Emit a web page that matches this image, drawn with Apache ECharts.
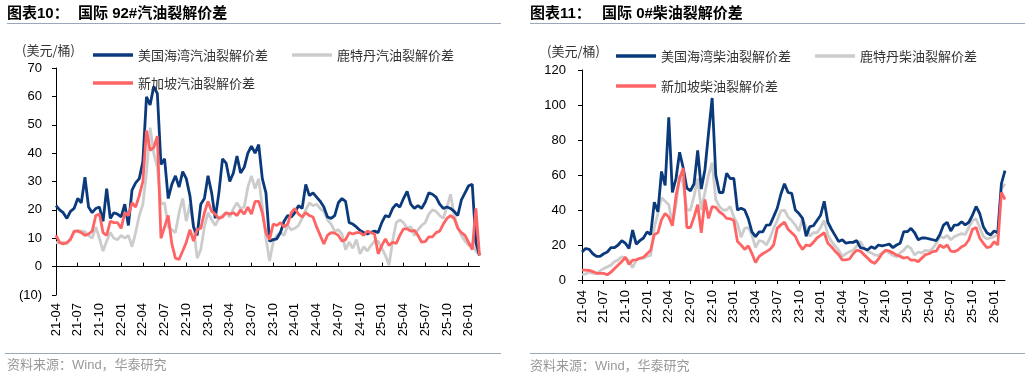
<!DOCTYPE html>
<html><head><meta charset="utf-8">
<script src="https://cdn.jsdelivr.net/npm/echarts@6/dist/echarts.min.js"></script>
<style>html,body{margin:0;padding:0;background:#fff}#c{width:1030px;height:377px}</style>
</head><body><div id="c"></div>
<script>
// x = months since 2021-04, one point every half month
const STEP = 0.5;
const X_TICKS = [0,3,6,9,12,15,18,21,24,27,30,33,36,39,42,45,48,51,54,57];
const X_LABELS = ['21-04','21-07','21-10','22-01','22-04','22-07','22-10','23-01','23-04','23-07',
                  '23-10','24-01','24-04','24-07','24-10','25-01','25-04','25-07','25-10','26-01'];

// 国际92#汽油裂解价差 (美元/桶)
const gasUS = [
21.5,20,19,17,19.5,20.5,24,22.5,31.5,21,19,20.5,
21,16,27.5,17,19,18.5,17.5,22,14.5,27,29.5,31,
37,59.8,57,63.5,61,36,38,24,29,32,28,33.5,
31,25,14,11,22,24,32,26,17,26,38,36.5,
30,33,39,33,35,40,42.5,40,43,31,26,9,
9.5,9.8,12,16,18,17.5,19,21.5,20.5,29,25,26,
24.5,23,21,17.5,17,18,22.5,24,23,15.5,15,14,
12.7,12,11.5,12.1,12.5,12,15.5,18,17.5,20.5,22,21,
24,26.5,22,20.5,21.5,20.5,22.7,26,25.5,24.5,22,20.5,
21,20.5,19.5,18,23.5,26,28.5,29,8.5,4];
const gasRT = [
8.5,8.3,8.5,8,10,12,12.7,12.5,12.3,11,10,14,
10,5.5,9,12,10,9.5,11,10,11,7,12,18,
22,33,49,40,35,22,22.5,14,13,12,19,24,
16,22,14,3,6,14,19,16.5,14.5,17,18,19,
17.5,20.4,22.5,20.5,21,28,32,27.5,31,21,10,2,
8.6,11,12,11,14.5,13,13.5,14.5,17,20,22.5,21.5,
22,20.4,19.5,16.5,15,12.5,13,11.5,6,8.6,6.5,9.5,
4.5,7,5.5,7.4,9,9,6.5,4,0.5,9,15.5,16.5,
15.5,13.5,14,11,13,14.5,15.5,18.5,20,19.5,18,17,
21,25.5,18,14,11,9,7.5,8,5.5,4];
const gasSG = [
11,8.5,8,8.5,9.5,12.5,12.5,12,11,11.5,12.5,18,
18.5,12,11,16,15.5,15.5,13.5,19,18,22.5,21,25,
30,48,41,42,46,10,14,18,8,3,2.5,5.5,
8.6,13,9,13,13.5,19,23,19.5,18.5,17,17.5,19,
18.5,19,18,20,18.5,21,18.5,23,23,19,12,9.5,
15,14.5,15.5,14,15,19,20.5,18.5,17.5,19,18,17.5,
14,11,8,11,12,11.8,11,9,9.5,12,11.5,12,
12,11,12.5,12,11.5,4.5,7.4,9.8,7.5,8.6,8.2,11,
13.3,13.3,12.5,12.8,11,8.6,8.8,10.5,10.5,12,12.5,15,
17,18,17,13.5,12,11,8.5,6,20.5,4];

// 国际0#柴油裂解价差 (美元/桶)
const dslUS = [
16,18,17.5,15,13.5,13.5,15,16,18.5,18.5,20,22.5,
21,18,28.5,20.5,22.5,24,27.5,26,44.5,39,62,54,
93,50,58,73,64,52.5,51,55,74,52,63,84,
104,60,50,50,61,58,58,40,41,40,35,27.5,
24.8,27.5,27.5,31.4,31.5,36.2,41,49,55,50,49.5,40,
38,35.2,25,30.5,31,34,37,45,33,29,25.5,22,
23,21,21.5,21.5,22.5,18.5,18,17.1,19,18,20,19.5,
20,20.5,18.5,20,21,27.6,27.6,29.5,27,23,24,24,
23.5,23,22.5,26,31.4,33,28,31.4,31.5,33.3,31.5,33,
37,42,38,30.5,27,25.7,28,27,55,62.5];
const dslRT = [
3,3.5,4.5,3.8,3.8,5.2,6.5,7.5,8.5,10.5,11.4,13.3,
12.5,11,7,11.5,12.4,12.4,13.5,14,30,38,47,45,
43,32,43,60,55,40,40,48,58,40,50,60,
67,46,42,40,40,42,36,32,24.5,29.5,30,25.7,
18.5,22.5,22,20,24,29.5,34,39.5,40,36,34,31.4,
28,35,30,25,27,27,30,34,25.7,22,19.5,17,
13.5,15,16.2,17,19.5,22,18.5,16.2,15.5,14.3,14,15.5,
17,15.5,14,13.3,15.5,17,19.5,18,14.3,16,15.5,17,
16.5,18,21,25,24,25.5,23,24.8,25.7,26.5,26,30,
34,35,30,25,23.5,24,24.8,26,52,55];
const dslSG = [
5.7,5.7,5.5,4.8,3.8,3.8,3.8,3,4.5,6.5,8.6,10.5,
13,9,11.4,11.5,12.4,13,15,17,26,27,34.5,38,
36,31,48,58,64,30,30,36,43,27,46,35.2,
42,41.5,39,37.5,35.2,35,34,22,20,17.5,19.5,15.2,
10,13.5,15,16.2,17.5,20,29.5,31.5,33,29,27,25,
20.5,17.5,20,19.5,21.5,24,25.5,27,21,19,16.5,14.5,
11.5,11.5,12,15,17,16.5,14.5,12.5,10.5,9.5,12,15,
17,16.5,15.5,14.3,13.5,12.5,13,11.4,11.4,10.5,12.5,14.5,
15,16.2,16.5,20,18.5,20,16.5,16.2,17.1,19,20,23,
29,30,24,21,18.5,19,21.9,20,50,46];

const BLUE = '#0b3a7c', GRAY = '#cccccc', RED = '#ff6464';
const NUM = 'Liberation Sans, Arial, sans-serif';
const CJK = '"Noto Sans CJK SC", sans-serif';
const TITLE = '"Liberation Sans", "Noto Sans CJK SC", sans-serif';

const chart = echarts.init(document.getElementById('c'), null, {renderer: 'canvas'});

function xlab(v) { const i = X_TICKS.indexOf(v); return i >= 0 ? X_LABELS[i] : ''; }
function ser(name, vals, color, xi, yi, z) {
  return { name, type: 'line', xAxisIndex: xi, yAxisIndex: yi, z,
    data: vals.map((v, i) => [i * STEP, v]),
    symbol: 'none', showSymbol: false, smooth: false,
    lineStyle: { width: 2.8, color }, itemStyle: { color }, emphasis: { disabled: true } };
}
const xMax = (gasUS.length - 1) * STEP;
const xBase = {
  type: 'value', min: 0, max: xMax,
  splitLine: { show: false },
  axisTick: { show: true, length: 4, lineStyle: { color: '#000' }, customValues: X_TICKS },
  axisLine: { show: true, onZero: false, lineStyle: { color: '#000', width: 1 } },
  axisLabel: { show: true, rotate: 90, fontSize: 13, color: '#000', fontFamily: NUM,
    customValues: X_TICKS, formatter: xlab }
};
function merge(a, b) { return echarts.util.merge(echarts.util.clone(a), b, true); }

const legendBase = { orient: 'horizontal', icon: 'rect', itemWidth: 40, itemHeight: 3.5, itemGap: 24,
  textStyle: { fontSize: 13, color: '#333', fontFamily: CJK, lineHeight: 14 }, selectedMode: false };

function txt(x, y, text, size, color, weight, family) {
  return { type: 'text', x, y, silent: true,
    style: { text, fontSize: size, fill: color, fontWeight: weight || 'normal', fontFamily: family || CJK, verticalAlign: 'middle' } };
}
function hline(x1, x2, y, color) {
  return { type: 'line', silent: true, shape: { x1, y1: y, x2, y2: y }, style: { stroke: color, lineWidth: 1 } };
}

chart.setOption({
  animation: false,
  backgroundColor: '#fff',
  grid: [
    { left: 56, top: 68, width: 423.5, height: 227, containLabel: false },
    { left: 582, top: 70, width: 423, height: 210, containLabel: false }
  ],
  xAxis: [
    merge(xBase, { gridIndex: 0, axisLine: { show: false }, axisTick: { show: false }, axisLabel: { margin: 8 } }),
    merge(xBase, { gridIndex: 0, axisLine: { show: true, onZero: true }, axisLabel: { show: false } }),
    merge(xBase, { gridIndex: 1, axisLabel: { margin: 10 } })
  ],
  yAxis: [
    { type: 'value', gridIndex: 0, min: -10, max: 70, interval: 10,
      splitLine: { show: false },
      axisLine: { show: true, lineStyle: { color: '#000' } },
      axisTick: { show: true, length: 4, lineStyle: { color: '#000' } },
      axisLabel: { fontSize: 13, color: '#000', fontFamily: NUM, margin: 14,
        formatter: v => v < 0 ? '(' + (-v) + ')' : String(v) } },
    { type: 'value', gridIndex: 1, min: 0, max: 120, interval: 20,
      splitLine: { show: false },
      axisLine: { show: true, lineStyle: { color: '#000' } },
      axisTick: { show: true, length: 4, lineStyle: { color: '#000' } },
      axisLabel: { fontSize: 13, color: '#000', fontFamily: NUM, margin: 16 } }
  ],
  legend: [
    merge(legendBase, { left: 88, top: 43, data: ['美国海湾汽油裂解价差', '鹿特丹汽油裂解价差'] }),
    merge(legendBase, { left: 88, top: 71, data: ['新加坡汽油裂解价差'] }),
    merge(legendBase, { left: 611, top: 44, data: ['美国海湾柴油裂解价差', '鹿特丹柴油裂解价差'] }),
    merge(legendBase, { left: 611, top: 74, data: ['新加坡柴油裂解价差'] })
  ],
  series: [
    ser('鹿特丹汽油裂解价差', gasRT, GRAY, 0, 0, 2),
    ser('美国海湾汽油裂解价差', gasUS, BLUE, 0, 0, 3),
    ser('新加坡汽油裂解价差', gasSG, RED, 0, 0, 4),
    ser('鹿特丹柴油裂解价差', dslRT, GRAY, 2, 1, 2),
    ser('美国海湾柴油裂解价差', dslUS, BLUE, 2, 1, 3),
    ser('新加坡柴油裂解价差', dslSG, RED, 2, 1, 4)
  ],
  graphic: [
    txt(7, 14, '图表10：', 15, '#000', 'bold', TITLE),
    txt(78, 14, '国际 92#汽油裂解价差', 15, '#000', 'bold', TITLE),
    txt(530, 14, '图表11：', 15, '#000', 'bold', TITLE),
    txt(602, 14, '国际 0#柴油裂解价差', 15, '#000', 'bold', TITLE),
    hline(7, 501, 23.5, '#9aa8ba'),
    hline(530, 1025, 23.5, '#9aa8ba'),
    txt(22, 50, '(美元/桶)', 13, '#333'),
    txt(547, 51, '(美元/桶)', 13, '#333'),
    hline(5, 501, 353.5, '#9aa8ba'),
    hline(530, 1025, 353.5, '#9aa8ba'),
    txt(7, 365, '资料来源：Wind，华泰研究', 13, '#999', 'normal', TITLE),
    txt(530, 366, '资料来源：Wind，华泰研究', 13, '#999', 'normal', TITLE)
  ]
});
</script>
</body></html>
